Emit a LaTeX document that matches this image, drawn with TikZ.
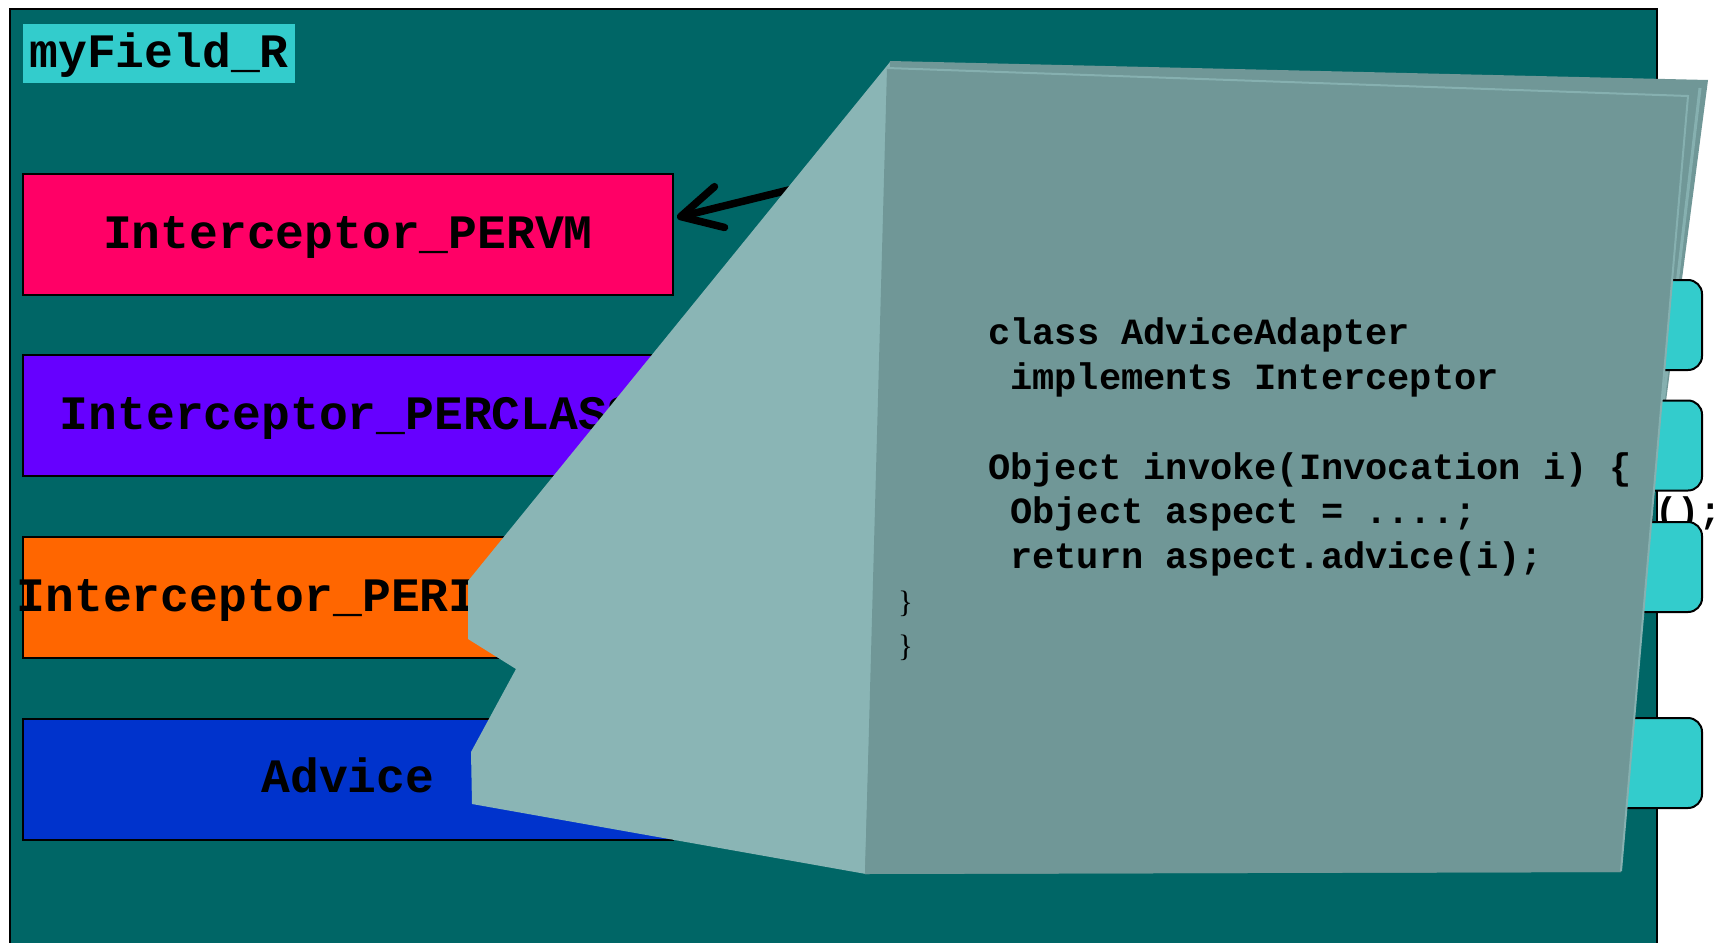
\documentclass[tikz,border=0pt]{standalone}
\usepackage{fontspec}
\setmonofont{Liberation Mono}
\newfontfamily\bracefont{Liberation Serif}
\usetikzlibrary{arrows.meta,calc}

\definecolor{panel}{HTML}{006666}
\definecolor{tabcyan}{HTML}{33CCCC}
\definecolor{pervmc}{HTML}{FF0066}
\definecolor{perclassc}{HTML}{6600FF}
\definecolor{perinstc}{HTML}{FF6600}
\definecolor{advicec}{HTML}{0033CC}
\definecolor{calloutside}{HTML}{8AB5B5}
\definecolor{calloutpage}{HTML}{709797}
\definecolor{pageedge}{HTML}{86B0B0}

\begin{document}
\begin{tikzpicture}[x=1pt,y=-1pt,
  scopebox/.style={draw=black,line width=2pt,minimum width=650pt,minimum height=121pt,inner sep=0pt},
  boxlabel/.style={font=\fontsize{48}{56}\selectfont\ttfamily\bfseries,inner sep=0pt,anchor=base},
  codeline/.style={font=\fontsize{37}{45}\selectfont\ttfamily\bfseries,inner sep=0pt,anchor=base west},
  closebrace/.style={font=\fontsize{31}{36}\selectfont\bracefont,inner sep=0pt,anchor=base west},
  sidetab/.style={draw=black,line width=2pt,fill=tabcyan,rounded corners=14pt,minimum width=142pt,minimum height=90pt,inner sep=0pt},
]
\useasboundingbox (0,0) rectangle (1728,942);
\clip (0,0) rectangle (1728,942);
\fill[white] (0,0) rectangle (1728,942);

% field panel
\node[draw=black,line width=2pt,fill=panel,minimum width=1647pt,minimum height=960pt,
      anchor=north west,inner sep=0pt] (panel) at (9,8) {};
\node[fill=tabcyan,minimum width=272pt,minimum height=59pt,anchor=north west,inner sep=0pt] (fieldname) at (23,24) {};
\node[boxlabel] (fieldtext) at ($(fieldname.center)+(0,13.5)$) {myField\_R};

% interceptor chain
\node[scopebox,fill=pervmc] (pervm) at (348,234.5) {};
\node[scopebox,fill=perclassc] (perclass) at (348,415.5) {};
\node[scopebox,fill=perinstc] (perinst) at (348,597.5) {};
\node[scopebox,fill=advicec] (advice) at (348,779) {};
\node[boxlabel] (pervmtext) at ($(pervm.center)+(0,13.5)$) {Interceptor\_PERVM};
\node[boxlabel] (perclasstext) at ($(perclass.center)+(0,13.5)$) {Interceptor\_PERCLASS};
\node[boxlabel] (perinsttext) at ($(perinst.center)+(0,13.5)$) {Interceptor\_PERINSTANCE};
\node[boxlabel] (advicetext) at ($(advice.center)+(0,13.5)$) {Advice};

% pointer into the chain
\coordinate (armtail) at (805,186);
\draw[line width=7.5pt,line cap=round,-{Straight Barb[length=40pt,width=42pt,round]}]
  (armtail) -- ($(pervm.east)+(3,-17)$);

% callout: side face and back sheet
\fill[calloutside] (890,62) -- (468,581) -- (468,639) -- (516,669) -- (471,752)
  -- (472,804) -- (866,874) -- cycle;
\fill[calloutpage] (890,61) -- (1708,80) -- (1640,600) -- (1621,872) -- (865,874) -- cycle;
\draw[pageedge,line width=3pt] (1700,88) -- (1640,600);

% tabs on the right side
\node[sidetab] (tab1) at (1631,325) {};
\node[sidetab] (tab2) at (1631,445.5) {};
\node[codeline,anchor=base east] (nextcall) at (1722,523) {d();};
\node[sidetab] (tab3) at (1631,567) {};
\node[sidetab] (tab4) at (1631,763) {};

% callout: front sheet
\fill[calloutpage] (887,68) -- (1688,96) -- (1621,872) -- (865,874) -- cycle;
\draw[pageedge,line width=2pt] (887,68) -- (1688,96) -- (1621,871);

% code on the page
\node[codeline] (c1) at (988,344) {class AdviceAdapter};
\node[codeline] (c2) at (1010,389) {implements Interceptor};
\node[codeline] (c3) at (988,479) {Object invoke(Invocation i) \{};
\node[codeline] (c4) at (1010,523) {Object aspect = ....;};
\node[codeline] (c5) at (1010,568) {return aspect.advice(i);};
\node[closebrace] (b1) at (898,612) {\}};
\node[closebrace] (b2) at (898,656) {\}};
\end{tikzpicture}
\end{document}
